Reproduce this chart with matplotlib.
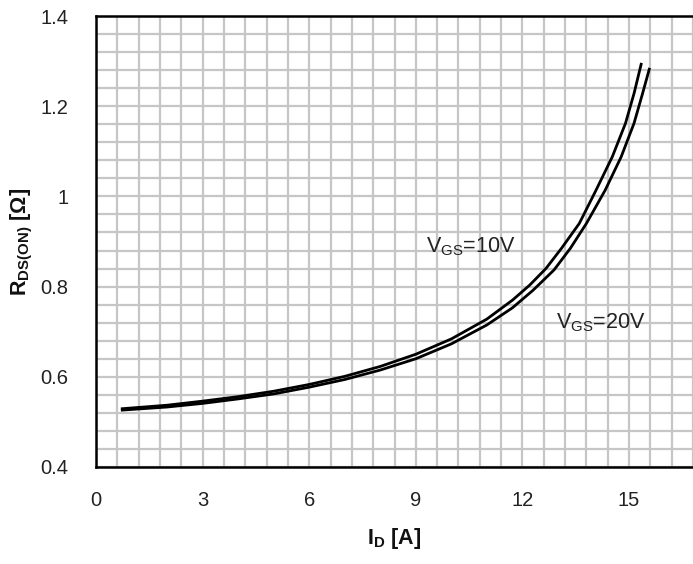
import numpy as np
import matplotlib
matplotlib.use("Agg")
import matplotlib.pyplot as plt
from matplotlib.ticker import MultipleLocator

plt.rcParams['font.family'] = ['Liberation Sans', 'DejaVu Sans']
plt.rcParams['mathtext.fontset'] = 'custom'
plt.rcParams['mathtext.rm'] = 'Liberation Sans'
plt.rcParams['mathtext.bf'] = 'Liberation Sans:bold'

# drain current [A] and on-resistance [ohm]
id_10v = [0.7, 2, 3, 4, 5, 6, 7, 8, 9, 10, 11, 11.72, 12.2, 12.66, 13.1, 13.6, 14.06, 14.53, 14.9, 15.14, 15.35]
r_10v = [0.529, 0.537, 0.546, 0.556, 0.568, 0.583, 0.601, 0.623, 0.650, 0.684, 0.728, 0.770,
         0.803, 0.840, 0.885, 0.940, 1.012, 1.088, 1.162, 1.228, 1.296]

id_20v = [0.7, 2, 3, 4, 5, 6, 7, 8, 9, 10, 11, 11.72, 12.3, 12.89, 13.35, 13.8, 14.33, 14.78, 15.14, 15.38, 15.58]
r_20v = [0.526, 0.533, 0.541, 0.551, 0.562, 0.577, 0.594, 0.615, 0.640, 0.673, 0.715, 0.753,
         0.792, 0.837, 0.885, 0.940, 1.014, 1.088, 1.162, 1.228, 1.285]

x_ticks = [0, 3, 6, 9, 12, 15]
y_ticks = [0.4, 0.6, 0.8, 1.0, 1.2, 1.4]
y_ticklabels = ['0.4', '0.6', '0.8', '1', '1.2', '1.4']

fig = plt.figure(figsize=(6.93, 5.64), dpi=100)
ax = fig.add_axes([96 / 693, 97 / 564, 1 - 96 / 693, 451 / 564])

ax.plot(id_10v, r_10v, color='black', lw=2.0, solid_capstyle='butt', solid_joinstyle='round', zorder=3)
ax.plot(id_20v, r_20v, color='black', lw=2.0, solid_capstyle='butt', solid_joinstyle='round', zorder=3)

ax.set_xlim(0, 16.8)
ax.set_ylim(0.4, 1.4)
ax.set_xticks(x_ticks)
ax.set_yticks(y_ticks)
ax.set_yticklabels(y_ticklabels)
ax.xaxis.set_minor_locator(MultipleLocator(0.6))
ax.yaxis.set_minor_locator(MultipleLocator(0.04))
ax.grid(which='both', color='#c6c6c6', lw=1.6)
ax.set_axisbelow(True)
ax.tick_params(which='both', length=0, labelsize=14.5, labelcolor='#222222')
ax.tick_params(axis='x', pad=17)
ax.tick_params(axis='y', pad=20)

for side in ['left', 'bottom', 'top']:
    ax.spines[side].set_linewidth(1.8)
    ax.spines[side].set_color('black')
ax.spines['right'].set_visible(False)

ax.set_xlabel(r'I$_{\mathbf{D}}$ [A]', fontsize=15.5, fontweight='bold', color='#111111', labelpad=12)
ax.set_ylabel(r'R$_{\mathbf{DS(ON)}}$ [Ω]', fontsize=15.5, fontweight='bold', color='#111111', labelpad=4)

ax.text(9.3, 0.888, r'V$_{\mathrm{GS}}$=10V', fontsize=15.5, color='#222222', va='center', ha='left')
ax.text(12.95, 0.72, r'V$_{\mathrm{GS}}$=20V', fontsize=15.5, color='#222222', va='center', ha='left')

plt.savefig('out.png', dpi=100)
